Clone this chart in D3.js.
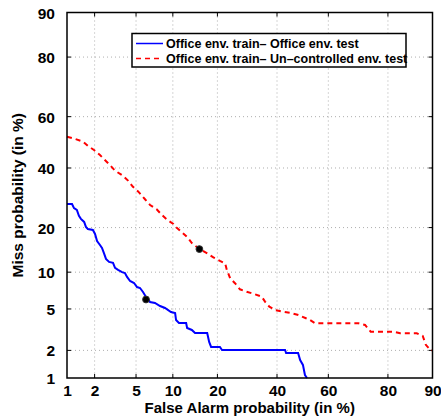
<!DOCTYPE html>
<html>
<head>
<meta charset="utf-8">
<script src="https://cdn.jsdelivr.net/npm/d3@7"></script>
<style>
  body { margin: 0; background: #fff; }
  text { font-family: "Liberation Sans", Arial, sans-serif; font-weight: bold; }
</style>
</head>
<body>
<svg id="chart" width="441" height="417"></svg>
<script>
// tick values (in %)
let tickValues = [1, 2, 5, 10, 20, 40, 60, 80, 90];
let gridValues = [2, 5, 10, 20, 40, 60, 80];

// Office env. train - Office env. test  (false alarm %, miss %)
let officeFA = [1.0, 1.14, 1.20, 1.29, 1.36, 1.43, 1.55, 1.62, 1.70, 1.92, 2.02, 2.12, 2.27, 2.38, 2.49, 2.61, 2.80, 3.06, 3.20, 3.42,
  3.73, 3.97, 4.15, 4.42, 4.80, 5.10, 5.42, 5.75, 6.1, 6.6, 7.24, 7.96, 8.71, 9.68, 10.4, 10.57, 11.1, 12.5, 12.7, 13.7,
  14.4, 17.3, 17.8, 18.3, 20.7, 21.3, 43.1, 43.5, 48.2, 49.0, 50.1, 50.9, 51.7];
let officeMiss = [27.1, 27.1, 25.8, 25.2, 23.4, 22.5, 21.6, 20.2, 19.6, 19.35, 18.3, 16.5, 15.55, 14.85, 13.7, 12.5, 11.9, 11.7, 10.75, 10.4,
  10.0, 9.85, 9.2, 8.55, 8.25, 7.66, 7.52, 6.98, 6.34, 5.75, 5.64, 5.31, 5.10, 4.70, 4.60, 3.97, 3.73, 3.73, 3.34, 3.20,
  2.99, 2.99, 2.44, 2.17, 2.17, 2.02, 2.02, 1.88, 1.88, 1.58, 1.40, 1.08, 1.0];

// Office env. train - Un-controlled env. test
let uncontrolledFA = [1.0, 1.17, 1.51, 1.70, 1.97, 2.27, 2.86, 3.20, 3.79, 4.26, 4.67, 5.24, 5.98, 6.6, 7.48, 8.22, 9.07, 10.1, 10.57, 11.6,
  12.8, 13.7, 15.4, 17.2, 18.9, 20.7, 22.2, 22.7, 23.7, 25.2, 26.8, 29.0, 31.9, 34.3, 35.5, 37.1, 39.2, 42.4, 45.0, 48.3,
  51.3, 52.9, 54.9, 70.9, 73.1, 74.9, 81.5, 83.2, 87.0, 88.2, 88.8, 89.6, 90.0];
let uncontrolledMiss = [52.2, 51.6, 50.25, 48.6, 47.0, 45.0, 41.1, 39.0, 37.1, 35.2, 33.1, 31.3, 28.7, 26.8, 25.4, 23.7, 22.2, 21.0, 20.1, 18.8,
  17.4, 16.0, 14.6, 13.7, 12.8, 12.1, 11.6, 10.4, 9.0, 8.22, 7.34, 7.02, 6.68, 6.38, 5.79, 5.24, 4.90, 4.73, 4.63, 4.42,
  4.12, 3.97, 3.70, 3.70, 3.57, 3.08, 3.08, 2.97, 2.97, 2.80, 2.28, 2.02, 2.0];

// operating points (dots)
let dotFA = [6.1, 15.4];
let dotMiss = [6.04, 14.6];

let legendLabels = ["Office env. train\u2013 Office env. test", "Office env. train\u2013 Un\u2013controlled env. test"];

// inverse normal cdf (Acklam)
function probit(p) {
  let a = [-3.969683028665376e+01, 2.209460984245205e+02, -2.759285104469687e+02, 1.383577518672690e+02, -3.066479806614716e+01, 2.506628277459239e+00];
  let b = [-5.447609879822406e+01, 1.615858368580409e+02, -1.556989798598866e+02, 6.680131188771972e+01, -1.328068155288572e+01];
  let c = [-7.784894002430293e-03, -3.223964580411365e-01, -2.400758277161838e+00, -2.549671010229528e+00, 4.374664141464968e+00, 2.938163982698783e+00];
  let d = [7.784695709041462e-03, 3.224671290700398e-01, 2.445134137142996e+00, 3.754408661907416e+00];
  let pl = 0.02425, q, r;
  if (p < pl) {
    q = Math.sqrt(-2 * Math.log(p));
    return (((((c[0]*q+c[1])*q+c[2])*q+c[3])*q+c[4])*q+c[5]) / ((((d[0]*q+d[1])*q+d[2])*q+d[3])*q+1);
  } else if (p <= 1 - pl) {
    q = p - 0.5; r = q*q;
    return (((((a[0]*r+a[1])*r+a[2])*r+a[3])*r+a[4])*r+a[5])*q / (((((b[0]*r+b[1])*r+b[2])*r+b[3])*r+b[4])*r+1);
  } else {
    q = Math.sqrt(-2 * Math.log(1 - p));
    return -(((((c[0]*q+c[1])*q+c[2])*q+c[3])*q+c[4])*q+c[5]) / ((((d[0]*q+d[1])*q+d[2])*q+d[3])*q+1);
  }
}

let margin = {left: 67, right: 8.5, top: 12.5, bottom: 39};
let width = 441, height = 417;
let svg = d3.select('#chart');

let xLin = d3.scaleLinear().domain([probit(0.01), probit(0.9)]).range([margin.left, width - margin.right]);
let yLin = d3.scaleLinear().domain([probit(0.01), probit(0.9)]).range([height - margin.bottom, margin.top]);
let x = v => xLin(probit(v / 100));
let y = v => yLin(probit(v / 100));

let x0 = margin.left, x1 = width - margin.right, y0 = margin.top, y1 = height - margin.bottom;

// grid
let grid = svg.append('g').attr('stroke', '#999').attr('stroke-width', 0.8).attr('stroke-dasharray', '1,3');
gridValues.forEach(v => {
  grid.append('line').attr('x1', x(v)).attr('x2', x(v)).attr('y1', y0).attr('y2', y1);
  grid.append('line').attr('y1', y(v)).attr('y2', y(v)).attr('x1', x0).attr('x2', x1);
});

// axes (ticks inward, mirrored)
let xAxis = d3.axisBottom(d3.scaleLinear().domain(xLin.domain()).range(xLin.range()))
  .tickValues(tickValues.map(v => probit(v / 100))).tickSize(0).tickPadding(7)
  .tickFormat((d, i) => tickValues[i]);
let yAxis = d3.axisLeft(d3.scaleLinear().domain(yLin.domain()).range(yLin.range()))
  .tickValues(tickValues.map(v => probit(v / 100))).tickSize(0).tickPadding(12)
  .tickFormat((d, i) => tickValues[i]);

svg.append('g').attr('transform', `translate(0,${y1})`).call(xAxis)
  .call(g => g.select('.domain').remove())
  .selectAll('text').attr('font-size', 15.5).attr('fill', '#000');
svg.append('g').attr('transform', `translate(${x0},0)`).call(yAxis)
  .call(g => g.select('.domain').remove())
  .selectAll('text').attr('font-size', 15.5).attr('fill', '#000').attr('dy', '0.36em');

let ticks = svg.append('g').attr('stroke', '#000').attr('stroke-width', 1);
gridValues.forEach(v => {
  ticks.append('line').attr('x1', x(v)).attr('x2', x(v)).attr('y1', y1).attr('y2', y1 - 4);
  ticks.append('line').attr('x1', x(v)).attr('x2', x(v)).attr('y1', y0).attr('y2', y0 + 4);
  ticks.append('line').attr('y1', y(v)).attr('y2', y(v)).attr('x1', x0).attr('x2', x0 + 4);
  ticks.append('line').attr('y1', y(v)).attr('y2', y(v)).attr('x1', x1).attr('x2', x1 - 4);
});

// curves
let line = d3.line().x(d => x(d[0])).y(d => y(d[1]));
svg.append('path').datum(d3.zip(officeFA, officeMiss))
  .attr('d', line).attr('fill', 'none').attr('stroke', '#0000ff').attr('stroke-width', 2);
svg.append('path').datum(d3.zip(uncontrolledFA, uncontrolledMiss))
  .attr('d', line).attr('fill', 'none').attr('stroke', '#ff0000').attr('stroke-width', 2)
  .attr('stroke-dasharray', '5,4');

svg.selectAll('circle.op').data(d3.zip(dotFA, dotMiss)).join('circle')
  .attr('class', 'op').attr('cx', d => x(d[0])).attr('cy', d => y(d[1])).attr('r', 3.4)
  .attr('fill', '#000').attr('stroke', '#333').attr('stroke-width', 1);

// frame
svg.append('rect').attr('x', x0).attr('y', y0).attr('width', x1 - x0).attr('height', y1 - y0)
  .attr('fill', 'none').attr('stroke', '#000').attr('stroke-width', 1.5);

// axis titles
svg.append('text').attr('x', (x0 + x1) / 2).attr('y', 413).attr('text-anchor', 'middle')
  .attr('font-size', 15).text('False Alarm probability (in %)');
svg.append('text').attr('transform', `translate(23,${(y0 + y1) / 2}) rotate(-90)`).attr('text-anchor', 'middle')
  .attr('font-size', 15.5).text('Miss probability (in %)');

// legend
let lg = svg.append('g');
lg.append('rect').attr('x', 132).attr('y', 33.5).attr('width', 274).attr('height', 33.5)
  .attr('fill', '#fff').attr('stroke', '#000').attr('stroke-width', 1.5);
let legendStyles = [{c: '#0000ff', dash: null}, {c: '#ff0000', dash: '5,4'}];
legendLabels.forEach((t, i) => {
  let ly = 43.5 + i * 15;
  lg.append('line').attr('x1', 136).attr('x2', 163).attr('y1', ly).attr('y2', ly)
    .attr('stroke', legendStyles[i].c).attr('stroke-width', 1.5)
    .attr('stroke-dasharray', legendStyles[i].dash);
  lg.append('text').attr('x', 166).attr('y', ly).attr('dy', '0.36em').attr('font-size', 12.5).text(t);
});
</script>
</body>
</html>
